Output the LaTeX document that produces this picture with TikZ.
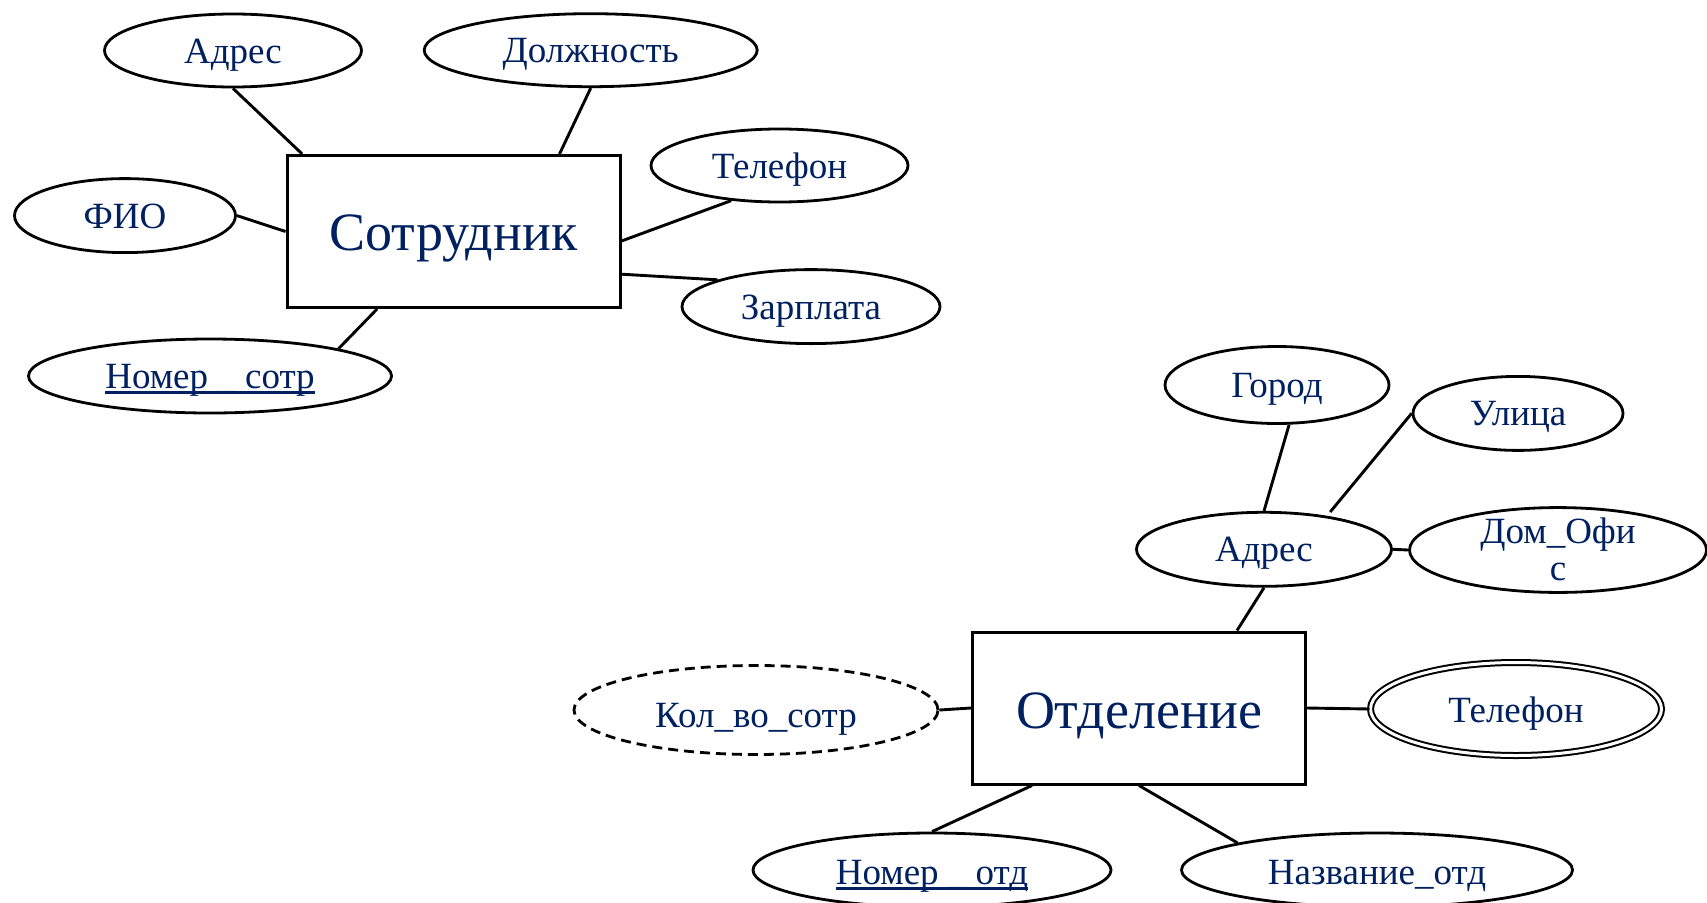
\documentclass[tikz,border=0pt]{standalone}
\usepackage{fontspec}
\setmainfont{Liberation Serif}
\usetikzlibrary{shapes.geometric,calc}
\definecolor{txt}{RGB}{0,32,96}
\newcommand\ulin[1]{\setbox0\hbox{#1}\rlap{\rule[-0.15em]{\wd0}{0.08em}}\box0}
\begin{document}
\begin{tikzpicture}[x=1pt,y=-1pt,
  attr/.style={ellipse, draw, line width=2.8pt, inner sep=0pt, text=txt,
    font=\fontsize{37}{37}\selectfont, text height=25pt, text depth=0pt},
  ent/.style={rectangle, draw, line width=3pt, minimum width=333pt,
    minimum height=152pt, inner sep=0pt, text=txt,
    font=\fontsize{54}{54}\selectfont, text height=37pt, text depth=0pt},
  link/.style={line width=2.9pt}]
\useasboundingbox (0,0) rectangle (1707,902);

% upper entity
\node[ent] (sotr) at (453.5,231.5) {Сотрудник};
\node[attr, minimum width=257pt, minimum height=73pt] (adr1) at (233,50.5) {Адрес};
\node[attr, minimum width=333pt, minimum height=73pt] (dolzh) at (590.7,50.2) {Должность};
\node[attr, minimum width=257pt, minimum height=73pt] (tel1) at (779.5,165.5) {Телефон};
\node[attr, minimum width=221pt, minimum height=74pt] (fio) at (125,215.6) {ФИО};
\node[attr, minimum width=258pt, minimum height=74pt] (zarp) at (811,306.6) {Зарплата};
\node[attr, minimum width=363pt, minimum height=74pt] (nsotr) at (210,376) {\ulin{Номер \_ сотр}};

% lower entity
\node[ent, text height=40pt] (otd) at (1139,708) {Отделение};
\node[attr, minimum width=224pt, minimum height=77pt] (gorod) at (1277,385) {Город};
\node[attr, minimum width=210pt, minimum height=74pt] (ulica) at (1518,413.4) {Улица};
\node[attr, minimum width=255pt, minimum height=74pt] (adr2) at (1264,549.3) {Адрес};
\node[attr, minimum width=297pt, minimum height=74pt, align=center, text height=60pt, text depth=0pt] (dom) at (1558,550) {Дом\_Офи\\с};
\node[attr, dash pattern=on 10pt off 6pt, minimum width=364pt, minimum height=89pt, text height=34pt] (kol) at (756,710) {Кол\_во\_сотр};
\node[attr, double, double distance=3pt, line width=2pt, minimum width=291pt, minimum height=93pt, text height=27pt] (tel2) at (1516,709) {Телефон};
\node[attr, minimum width=358pt, minimum height=74pt, text height=28pt] (notd) at (932,870) {\ulin{Номер \_ отд}};
\node[attr, minimum width=391pt, minimum height=74pt, text height=28pt] (nazv) at (1377,870) {Название\_отд};

% connectors upper
\draw[link] (adr1.south) -- ($(sotr.north west)+(16.7,0)$);
\draw[link] (dolzh.south) -- ($(sotr.north west)+(274,0)$);
\draw[link] (tel1.216) -- ($(sotr.east)+(0,9.5)$);
\draw[link] (fio.east) -- (sotr.west);
\draw[link] (zarp.164) -- ($(sotr.east)+(0,42.7)$);
\draw[link] (nsotr.12) -- ($(sotr.south west)+(91.6,0)$);

% connectors lower
\draw[link] (gorod.287) -- (adr2.north);
\draw[link, shorten >=5pt] (ulica.west) -- (adr2.28);
\draw[link] (adr2.east) -- (dom.west);
\draw[link] (adr2.south) -- ($(otd.north west)+(266,0)$);
\draw[link] (kol.east) -- (otd.west);
\draw[link] (otd.east) -- (tel2.west);
\draw[link] ($(otd.south west)+(61,0)$) -- (notd.north);
\draw[link] (otd.south) -- (nazv.169);
\end{tikzpicture}
\end{document}
